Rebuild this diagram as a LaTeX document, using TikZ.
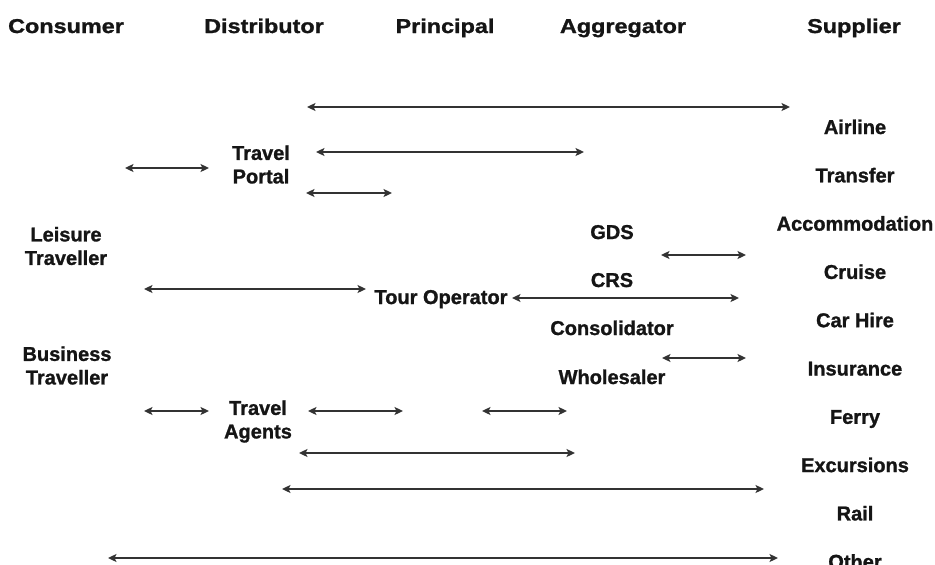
\documentclass[tikz,border=0pt]{standalone}
\usepackage{fontspec}
\setmainfont{Liberation Sans}[BoldFeatures={FakeBold=1.2}]
\newfontfamily\headfont{Liberation Sans}[FakeStretch=1.17,BoldFeatures={FakeBold=1.2}]
\usetikzlibrary{arrows.meta}
\definecolor{ink}{HTML}{151515}
\definecolor{wire}{HTML}{333333}

\begin{document}
\begin{tikzpicture}[x=1pt,y=-1pt,<->,>={Stealth[length=8.5pt,width=8pt,inset=2pt]},draw=wire,line width=2.2pt]
    \tikzstyle{actor}=[text=ink,font=\fontsize{20}{23.5}\selectfont\bfseries,align=center,inner sep=0pt]
    \tikzstyle{single}=[actor,anchor=base]
    \tikzstyle{column title}=[single,font=\headfont\fontsize{20}{24}\selectfont\bfseries]

    \useasboundingbox (0,0) rectangle (935,565);

    % Draw the column titles
    \foreach \name/\x/\txt in {con/66/Consumer,dis/264/Distributor,pri/445/Principal,agg/623/Aggregator,sup/854/Supplier}
        \node[column title] (T-\name) at (\x,33) {\txt};

    % Consumers on the left
    \node[actor] (leisure) at (66,246) {Leisure\\Traveller};
    \node[actor] (business) at (67,365.5) {Business\\Traveller};

    % Distributors and the principal
    \node[actor] (portal) at (261,164.5) {Travel\\Portal};
    \node[actor] (agents) at (258,421.5) {Travel\\Agents};
    \node[single] (tour) at (441,304) {Tour Operator};

    % Draw the aggregator nodes
    \foreach \name/\y in {GDS/239,CRS/287,Consolidator/335,Wholesaler/384}
        \node[single] (A-\name) at (612,\y) {\name};

    % Draw the supplier column
    \foreach \name [count=\i] in {Airline,Transfer,Accommodation,Cruise,Car Hire,Insurance,Ferry,Excursions,Rail,Other}
        \node[single] (S-\i) at (855,85.7+48.3*\i) {\name};

    % Connect the tiers with the double arrows
    \foreach \name/\y/\from/\to in {1/107/307/790,2/152/316/584,3/168/125/209,4/193/306/392,
            5/255/661/746,6/289/144/366,7/298/512/739,8/358/662/746,9/411/144/209,
            10/411/308/403,11/411/482/567,12/453/299/575,13/489/282/764,14/558/108/778}
    {
        \coordinate (L-\name) at (\from,\y);
        \coordinate (R-\name) at (\to,\y);
        \path (L-\name) edge (R-\name);
    }
\end{tikzpicture}
\end{document}
